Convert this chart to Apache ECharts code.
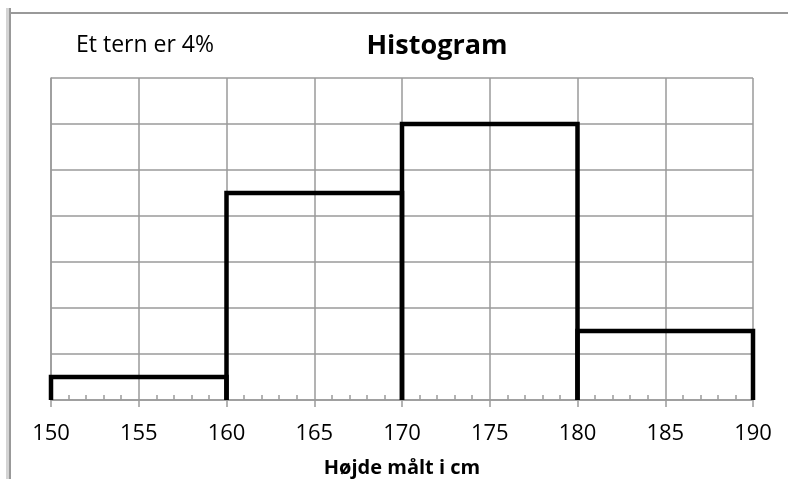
<!DOCTYPE html>
<html>
<head>
<meta charset="utf-8">
<script src="https://cdn.jsdelivr.net/npm/echarts@6/dist/echarts.min.js"></script>
<style>
  html, body { margin: 0; padding: 0; background: #fff; }
  #chart { width: 788px; height: 479px; }
</style>
</head>
<body>
<div id="chart"></div>
<script>
// bin edges in cm, share of people in each bin in %
const binEdges = [150, 160, 170, 180, 190];
const binPercent = [4, 36, 48, 12];
const ternPercent = 4; // one square = 4%
const ternWidth = 5; // a square is 5 cm wide
const xTicks = [150, 155, 160, 165, 170, 175, 180, 185, 190];

// height of each bar counted in squares
const bins = binPercent.map((p, i) => {
  const w = binEdges[i + 1] - binEdges[i];
  return [binEdges[i], binEdges[i + 1], p / ternPercent / (w / ternWidth)];
});

const gridColor = "#9a9a9a";
const font = "'Open Sans', 'Noto Sans', sans-serif";

const chart = echarts.init(document.getElementById("chart"), null, { renderer: "canvas" });

chart.setOption({
  animation: false,
  backgroundColor: "#fff",
  title: [
    {
      text: "Histogram",
      left: 432, top: 28, textAlign: "center",
      textStyle: { fontFamily: font, fontWeight: "bold", fontSize: 27, color: "#000" }
    },
    {
      text: "Et tern er 4%",
      left: 71, top: 29,
      textStyle: { fontFamily: font, fontWeight: "normal", fontSize: 23, color: "#000" }
    }
  ],
  graphic: [
    { type: "rect", shape: { x: 6, y: 8, width: 3, height: 479 }, style: { fill: "#d4d4d4" } },
    { type: "rect", shape: { x: 9, y: 8, width: 2, height: 479 }, style: { fill: "#999" } },
    { type: "rect", shape: { x: 11, y: 12, width: 777, height: 2 }, style: { fill: "#999" } }
  ],
  grid: { left: 51, right: 35, top: 78, bottom: 79, outerBoundsMode: "none" },
  xAxis: [
    {
      type: "value", min: xTicks[0], max: xTicks[xTicks.length - 1], interval: 5,
      name: "Højde målt i cm", nameLocation: "middle", nameGap: 58,
      nameTextStyle: { fontFamily: font, fontWeight: "bold", fontSize: 20, color: "#000" },
      axisLine: { lineStyle: { color: gridColor, width: 1.5 } },
      axisTick: { show: true, length: 7, lineStyle: { color: gridColor, width: 1.5 } },
      axisLabel: { fontFamily: font, fontSize: 22, color: "#000", margin: 23 },
      splitLine: { show: true, lineStyle: { color: gridColor, width: 1.5 } }
    },
    {
      // only the small inner ticks
      type: "value", min: xTicks[0], max: xTicks[xTicks.length - 1], interval: 5,
      position: "bottom",
      axisLine: { show: false },
      axisTick: { show: false, inside: true },
      axisLabel: { show: false },
      splitLine: { show: false },
      minorTick: { show: true, splitNumber: 5, length: 5, lineStyle: { color: gridColor, width: 1.5 } }
    }
  ],
  yAxis: {
    type: "value", min: 0, max: 7, interval: 1,
    axisLine: { show: true, lineStyle: { color: gridColor, width: 1.5 } },
    axisTick: { show: false },
    axisLabel: { show: false },
    splitLine: { show: true, lineStyle: { color: gridColor, width: 1.5 } }
  },
  series: [
    {
      type: "custom",
      data: bins,
      z: 5,
      renderItem: (params, api) => {
        const a = api.coord([api.value(0), 0]);
        const b = api.coord([api.value(0), api.value(2)]);
        const c = api.coord([api.value(1), api.value(2)]);
        const d = api.coord([api.value(1), 0]);
        return {
          type: "polyline",
          shape: { points: [a, b, c, d] },
          style: { fill: null, stroke: "#000", lineWidth: 4.5 }
        };
      }
    }
  ]
});
</script>
</body>
</html>
